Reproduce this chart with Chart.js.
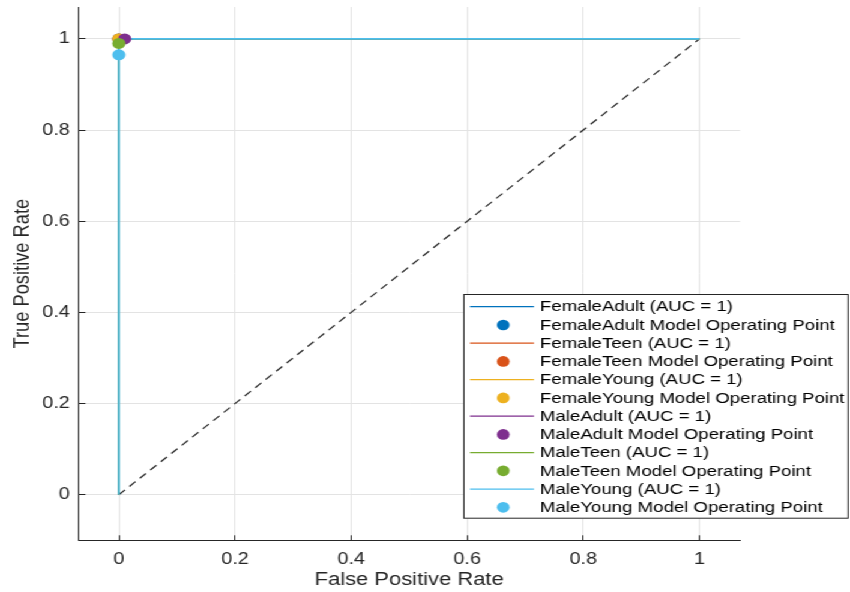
<!DOCTYPE html>
<html><head><meta charset="utf-8">
<script src="https://cdn.jsdelivr.net/npm/chart.js@4"></script>
<style>
html,body{margin:0;padding:0;background:#fff;overflow:hidden}
#wrap{width:708px;height:592px;transform:scaleX(1.20056);transform-origin:0 0;background:#fff}
canvas{display:block}
</style></head><body>
<div id="wrap"><canvas id="c" width="708" height="592"></canvas></div>
<script>
// ---- data ----
const classes = ['FemaleAdult','FemaleTeen','FemaleYoung','MaleAdult','MaleTeen','MaleYoung'];
const colors = ['#0072BD','#D95319','#EDB120','#7E2F8E','#77AC30','#4DBEEE'];
const aucValues = [1,1,1,1,1,1];
const rocFPR = [[0,0,1],[0,0,1],[0,0,1],[0,0,1],[0,0,1],[0,0,1]];
const rocTPR = [[0,1,1],[0,1,1],[0,1,1],[0,1,1],[0,1,1],[0,1,1]];
const opFPR = [0,0,0,0.01,0,0];
const opTPR = [1,1,1,1,0.99,0.965];
const diagX = [0,1];
const diagY = [0,1];
const xTicks = [0,0.2,0.4,0.6,0.8,1];
const yTicks = [0,0.2,0.4,0.6,0.8,1];
const xTitle = 'False Positive Rate';
const yTitle = 'True Positive Rate';

const FONT = '"Liberation Sans", Arial, sans-serif';
const AX = '#262626';

const datasets = [];
datasets.push({
  label: 'diag', data: diagX.map((x,i)=>({x, y: diagY[i]})),
  showLine: true, pointRadius: 0, borderColor: '#262626', borderWidth: 1.2,
  borderDash: [7,5], order: 100, legendSkip: true
});
classes.forEach((c,i)=>{
  datasets.push({
    label: c + ' (AUC = ' + aucValues[i] + ')',
    data: rocFPR[i].map((x,k)=>({x, y: rocTPR[i][k]})),
    showLine: true, pointRadius: 0, borderColor: colors[i], borderWidth: 1.6,
    order: 50 - i, legendKind: 'line', legendIdx: 2*i
  });
  datasets.push({
    label: c + ' Model Operating Point',
    data: [{x: opFPR[i], y: opTPR[i]}],
    showLine: false, pointRadius: 5.5, pointHoverRadius: 5.5, pointBorderWidth: 0,
    pointBackgroundColor: colors[i], backgroundColor: colors[i], borderColor: colors[i],
    order: 10 - i, legendKind: 'dot', legendIdx: 2*i + 1
  });
});

const legendPlugin = {
  id: 'boxLegend',
  afterDraw(chart) {
    const ctx = chart.ctx;
    const L = 385.9, R = 706.9, T = 294, B = 518.7;
    const rowY0 = 306.7, step = 18.24;
    ctx.save();
    ctx.fillStyle = '#ffffff';
    ctx.fillRect(L, T, R - L, B - T);
    ctx.strokeStyle = AX; ctx.lineWidth = 1;
    ctx.strokeRect(L + 0.5, T + 0.5, R - L - 1, B - T - 1);
    const items = chart.data.datasets.filter(d => !d.legendSkip).sort((a,b)=>a.legendIdx-b.legendIdx);
    ctx.font = '15.5px ' + FONT;
    ctx.textBaseline = 'middle';
    ctx.textAlign = 'left';
    items.forEach((d, k) => {
      const y = rowY0 + k * step;
      if (d.legendKind === 'line') {
        ctx.strokeStyle = d.borderColor; ctx.lineWidth = 1.2;
        ctx.beginPath(); ctx.moveTo(391.5, y); ctx.lineTo(444.8, y); ctx.stroke();
      } else {
        ctx.fillStyle = d.pointBackgroundColor;
        ctx.beginPath(); ctx.arc(419.2, y, 5.3, 0, Math.PI * 2); ctx.fill();
      }
      ctx.fillStyle = '#000000';
      ctx.fillText(d.label, 449.8, y + 0.5);
    });
    ctx.restore();
  }
};

const bgPlugin = {
  id: 'bg',
  beforeDraw(chart) {
    const ctx = chart.ctx; ctx.save(); ctx.fillStyle = '#fff';
    ctx.fillRect(0, 0, chart.width, chart.height); ctx.restore();
  }
};

new Chart(document.getElementById('c'), {
  type: 'scatter',
  data: { datasets },
  options: {
    responsive: false, animation: false, devicePixelRatio: 1,
    layout: { padding: { left: 0, top: 7, right: 91.6, bottom: 0 } },
    plugins: { legend: { display: false }, tooltip: { enabled: false } },
    events: [],
    scales: {
      x: {
        type: 'linear', position: 'bottom', min: -0.07, max: 1.07,
        afterBuildTicks(s) { s.ticks = xTicks.map(v => ({ value: v })); },
        afterFit(s) { s.height = 51.7; s.paddingLeft = 0; s.paddingRight = 0; },
        grid: { color: '#e3e3e3', lineWidth: 1, drawTicks: true, tickLength: -5, tickColor: AX, tickWidth: 1 },
        border: { display: true, color: AX, width: 1 },
        ticks: { color: AX, font: { family: FONT, size: 16.5 }, padding: 14, maxRotation: 0,
                 callback: v => String(v) },
        title: { display: true, text: xTitle, color: AX, font: { family: FONT, size: 18.3 },
                 padding: { top: 0, bottom: 0.6 } }
      },
      y: {
        type: 'linear', position: 'left', min: -0.1, max: 1.07,
        afterBuildTicks(s) { s.ticks = yTicks.map(v => ({ value: v })); },
        afterFit(s) { s.width = 65.2; s.paddingTop = 0; s.paddingBottom = 0; },
        grid: { color: '#e3e3e3', lineWidth: 1, drawTicks: true, tickLength: -6, tickColor: AX, tickWidth: 1 },
        border: { display: true, color: AX, width: 1 },
        ticks: { color: AX, font: { family: FONT, size: 16.5 }, padding: 12.9,
                 callback: v => String(v) },
        title: { display: true, text: yTitle, color: AX, font: { family: FONT, size: 18.3 },
                 padding: { top: 7.8, bottom: 0 } }
      }
    }
  },
  plugins: [bgPlugin, legendPlugin]
});
</script>
</body></html>
